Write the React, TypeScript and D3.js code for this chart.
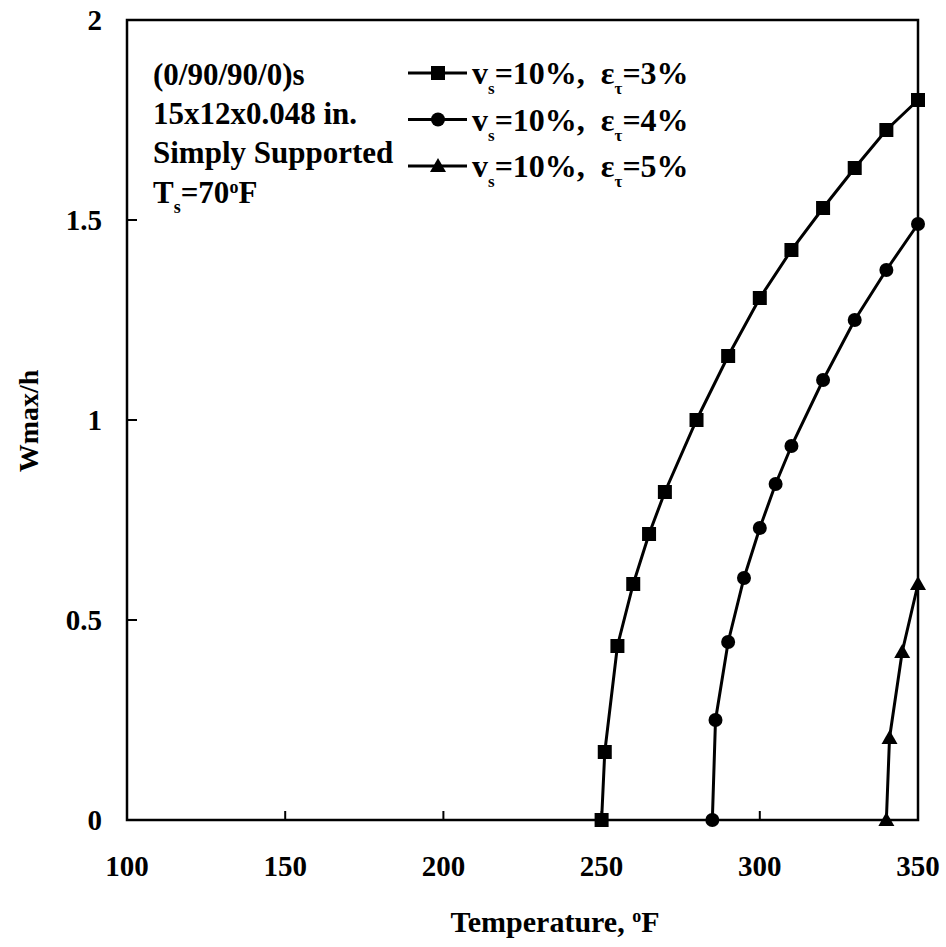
import React from "react";
import * as d3 from "d3";

const xTicks = [100, 150, 200, 250, 300, 350];
const yTicks = [0, 0.5, 1, 1.5, 2];
const yTickLabels = ["0", "0.5", "1", "1.5", "2"];

const s1x = [250, 251, 255, 260, 265, 270, 280, 290, 300, 310, 320, 330, 340, 350];
const s1y = [0, 0.17, 0.435, 0.59, 0.715, 0.82, 1.0, 1.16, 1.305, 1.425, 1.53, 1.63, 1.725, 1.8];
const s2x = [285, 286, 290, 295, 300, 305, 310, 320, 330, 340, 350];
const s2y = [0, 0.25, 0.445, 0.605, 0.73, 0.84, 0.935, 1.1, 1.25, 1.375, 1.49];
const s3x = [340, 341, 345, 350];
const s3y = [0, 0.205, 0.42, 0.59];

const seriesEps = ["3%", "4%", "5%"];
const seriesShapes = ["square", "circle", "triangle"];
const annotations = ["(0/90/90/0)s", "15x12x0.048 in.", "Simply Supported"];

const W = 946, H = 947;
const L = 127, R = 918, T = 20, B = 820;
const FONT = "'Liberation Serif', 'DejaVu Serif', serif";

function Marker({ shape, x, y }: { shape: string; x: number; y: number }) {
  if (shape === "square") return <rect x={x - 7} y={y - 7} width={14} height={14} fill="#000" />;
  if (shape === "circle") return <circle cx={x} cy={y} r={7} fill="#000" />;
  return <path d={`M${x},${y - 8} L${x + 8},${y + 6} L${x - 8},${y + 6} Z`} fill="#000" />;
}

export default function App() {
  const x = d3.scaleLinear().domain([100, 350]).range([L, R]);
  const y = d3.scaleLinear().domain([0, 2]).range([B, T]);
  const line = d3.line<[number, number]>().x((d) => x(d[0])).y((d) => y(d[1]));
  const series = [
    s1x.map((v, i) => [v, s1y[i]] as [number, number]),
    s2x.map((v, i) => [v, s2y[i]] as [number, number]),
    s3x.map((v, i) => [v, s3y[i]] as [number, number]),
  ];
  return (
    <svg width={W} height={H} style={{ position: "absolute", left: 0, top: 0, background: "#fff" }}
      fontFamily={FONT} fontWeight="bold">
      <rect x={0} y={0} width={W} height={H} fill="#fff" />
      <rect x={L} y={T} width={R - L} height={B - T} fill="none" stroke="#000" strokeWidth={2.5} />
      {xTicks.slice(1, -1).map((t) => (
        <line key={t} x1={x(t)} x2={x(t)} y1={B} y2={B - 9} stroke="#000" strokeWidth={2} />
      ))}
      {yTicks.slice(1, -1).map((t) => (
        <line key={t} x1={L} x2={L + 10} y1={y(t)} y2={y(t)} stroke="#000" strokeWidth={2} />
      ))}
      {xTicks.map((t) => (
        <text key={t} x={x(t)} y={876} textAnchor="middle" fontSize={29}>{t}</text>
      ))}
      {yTicks.map((t, i) => (
        <text key={t} x={L - 25} y={y(t) + 10} textAnchor="end" fontSize={29}>{yTickLabels[i]}</text>
      ))}
      <text x={555} y={932} textAnchor="middle" fontSize={30}>
        Temperature, <tspan baselineShift="super" fontSize={18}>o</tspan>F
      </text>
      <text transform={`translate(38,421) rotate(-90)`} textAnchor="middle" fontSize={28}>Wmax/h</text>

      {series.map((s, i) => (
        <g key={i}>
          <path d={line(s) || ""} fill="none" stroke="#000" strokeWidth={3} />
          {s.map((d, j) => <Marker key={j} shape={seriesShapes[i]} x={x(d[0])} y={y(d[1])} />)}
        </g>
      ))}

      {annotations.map((a, i) => (
        <text key={a} x={153} y={85 + i * 39} fontSize={31}>{a}</text>
      ))}
      <text x={153} y={203} fontSize={31}>
        T<tspan baselineShift="sub" fontSize={18}>s</tspan>=70<tspan baselineShift="super" fontSize={18}>o</tspan>F
      </text>

      {seriesEps.map((e, i) => {
        const ly = 73 + i * 46.5;
        return (
          <g key={e}>
            <line x1={408} x2={467} y1={ly} y2={ly} stroke="#000" strokeWidth={3} />
            <Marker shape={seriesShapes[i]} x={438} y={ly} />
            <text x={472} y={ly + 11} fontSize={32}>
              v<tspan baselineShift="sub" fontSize={17}>s</tspan>=10%,{"\u00a0\u00a0"}ε<tspan baselineShift="sub" fontSize={17}>τ</tspan>={e}
            </text>
          </g>
        );
      })}
    </svg>
  );
}
